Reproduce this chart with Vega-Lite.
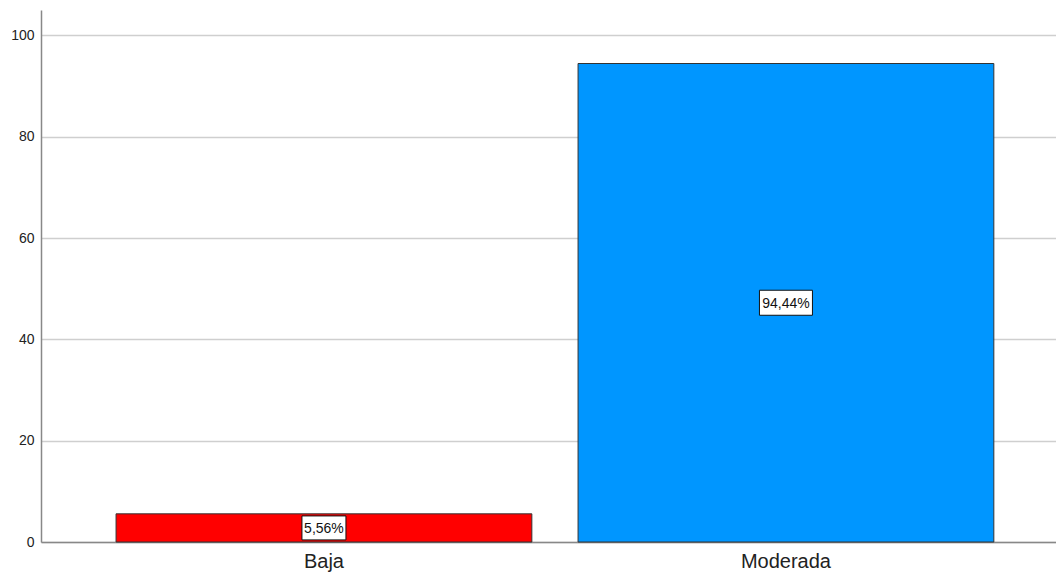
{
  "$schema": "https://vega.github.io/schema/vega-lite/v6.json",
  "width": 1015,
  "height": 532,
  "autosize": {"type": "none"},
  "padding": {"left": 41, "top": 10, "right": 0, "bottom": 36},
  "background": "white",
  "config": {
    "view": {"stroke": null},
    "font": "Liberation Sans"
  },
  "data": {
    "values": [
      {"cat": "Baja", "pct": 5.56, "label": "5,56%"},
      {"cat": "Moderada", "pct": 94.44, "label": "94,44%"}
    ]
  },
  "transform": [{"calculate": "datum.pct / 2", "as": "mid"}],
  "encoding": {
    "x": {
      "field": "cat",
      "type": "nominal",
      "sort": ["Baja", "Moderada"],
      "scale": {"paddingInner": 0.1, "paddingOuter": 0.1485, "align": 0.547},
      "axis": {
        "title": null,
        "labelAngle": 0,
        "ticks": false,
        "labelFontSize": 20,
        "labelColor": "#222222",
        "labelPadding": 9,
        "domainColor": "#888888",
        "domainWidth": 1.5,
        "grid": false
      }
    }
  },
  "layer": [
    {
      "mark": {"type": "bar", "stroke": "#333333", "strokeWidth": 1},
      "encoding": {
        "y": {
          "field": "pct",
          "type": "quantitative",
          "scale": {"domain": [0, 105], "nice": false},
          "axis": {
            "title": null,
            "values": [0, 20, 40, 60, 80, 100],
            "ticks": false,
            "labelFontSize": 14,
            "labelColor": "#222222",
            "labelPadding": 7,
            "domainColor": "#888888",
            "domainWidth": 1.5,
            "gridColor": "#cfcfcf",
            "gridWidth": 1.3
          }
        },
        "color": {
          "field": "cat",
          "type": "nominal",
          "scale": {"domain": ["Baja", "Moderada"], "range": ["#ff0000", "#0096ff"]},
          "legend": null
        }
      }
    },
    {
      "mark": {"type": "point", "filled": true, "fill": "white", "stroke": "#111111", "strokeWidth": 1, "opacity": 1},
      "encoding": {
        "y": {"field": "mid", "type": "quantitative"},
        "shape": {
          "condition": {"test": "datum.cat === 'Baja'", "value": "M-1,-0.545H1V0.545H-1Z"},
          "value": "M-1,-0.472H1V0.472H-1Z"
        },
        "size": {
          "condition": {"test": "datum.cat === 'Baja'", "value": 1936},
          "value": 2809
        }
      }
    },
    {
      "mark": {"type": "text", "fontSize": 14, "color": "#111111", "align": "center", "baseline": "middle", "dy": 1},
      "encoding": {
        "y": {"field": "mid", "type": "quantitative"},
        "text": {"field": "label", "type": "nominal"}
      }
    }
  ]
}
